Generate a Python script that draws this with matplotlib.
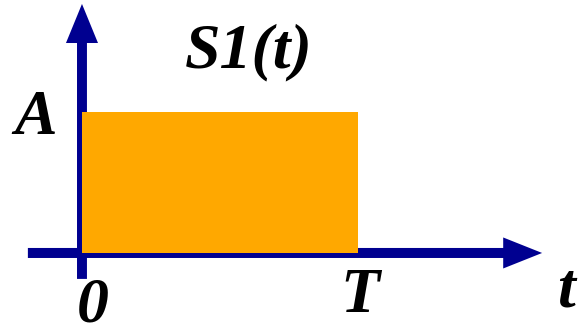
import matplotlib.pyplot as plt
import matplotlib.patches as mpatches
from matplotlib import font_manager

# signal: rectangular pulse of height A from 0 to T
T = 1.0
A = 1.0
pulse_t = [0.0, T]
pulse_amp = [A, A]

title = "S1(t)"
x_labels = ["0", "T"]
x_label_pos = [0.0, T]
axis_name = "t"
amp_label = "A"

NAVY = "#000090"
ORANGE = "#FFA800"

fp = font_manager.FontProperties(family="Liberation Serif", weight="bold",
                                 style="italic", size=46)

fig = plt.figure(figsize=(5.78, 3.27), dpi=100)
ax = fig.add_axes([0, 0, 1, 1])
ax.set_xlim(-0.297, 1.797)
ax.set_ylim(-0.525, 1.794)
ax.axis("off")

# axes arrows (data units differ in x and y, so widths are per-axis)
ax.add_patch(mpatches.FancyArrow(-0.196, 0, 1.863, 0, width=0.071,
                                 head_width=0.22, head_length=0.141,
                                 length_includes_head=True, lw=0, color=NAVY))
ax.add_patch(mpatches.FancyArrow(0, -0.184, 0, 1.95, width=0.036,
                                 head_width=0.116, head_length=0.277,
                                 length_includes_head=True, lw=0, color=NAVY))

# pulse
ax.fill_between(pulse_t, 0, pulse_amp, color=ORANGE, lw=0, zorder=3)

# labels, left-aligned on the baseline
ax.text(0.373, 1.319, title, fontproperties=fp)
ax.text(-0.246, 0.844 * A, amp_label, fontproperties=fp)
offs = [-0.018, -0.065]
base = [-0.489, -0.418]
for p, lab, o, b in zip(x_label_pos, x_labels, offs, base):
    ax.text(p + o, b, lab, fontproperties=fp)
ax.text(1.721, -0.383, axis_name, fontproperties=fp)

fig.savefig("out.png", dpi=100)
